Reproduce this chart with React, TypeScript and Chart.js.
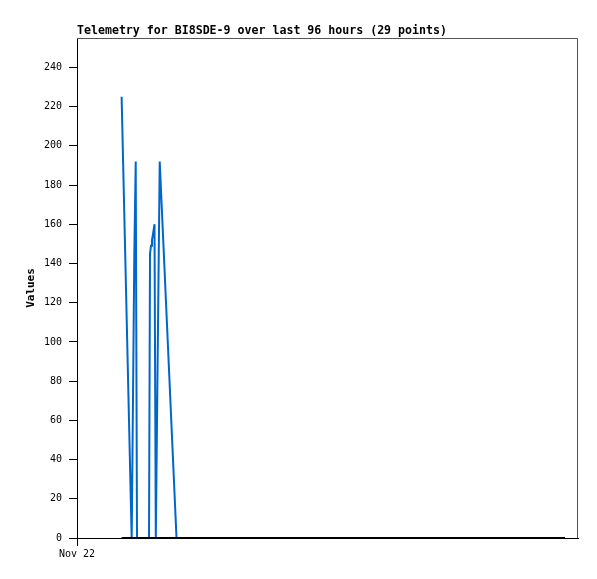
import { useEffect, useRef } from "react";
import { Chart, registerables } from "chart.js";

Chart.register(...registerables);

const TITLE = "Telemetry for BI8SDE-9 over last 96 hours (29 points)";
const Y_AXIS_LABEL = "Values";
const X_TICK_HOURS = [0];
const X_TICK_LABELS = ["Nov 22"];
const Y_TICKS = [0, 20, 40, 60, 80, 100, 120, 140, 160, 180, 200, 220, 240];
const X_MAX_HOURS = 96;
const Y_MAX = 255;

// hours since Nov 22 00:00
const HOURS = [
  8.55, 10.48, 10.98, 11.25, 11.5, 13.8, 13.99, 14.18, 14.37, 14.56, 14.85, 15.1,
  15.85, 19.07, 24, 29, 34, 39, 44, 49, 54, 59, 64, 69, 74, 79, 84, 89, 93.5,
];
const VALUES = [
  225, 0, 144, 192, 0, 0, 145, 149, 152, 155, 160, 0,
  192, 0, 0, 0, 0, 0, 0, 0, 0, 0, 0, 0, 0, 0, 0, 0, 0,
];
const BASELINE = [
  0, 0, 0, 0, 0, 0, 0, 0, 0, 0, 0, 0,
  0, 0, 0, 0, 0, 0, 0, 0, 0, 0, 0, 0, 0, 0, 0, 0, 0,
];

const MONO = '"DejaVu Sans Mono", "Liberation Mono", monospace';

const framePlugin = {
  id: "frameAndTitle",
  afterDraw(chart: any) {
    const { ctx, chartArea } = chart;
    ctx.save();
    ctx.strokeStyle = "#555555";
    ctx.lineWidth = 1;
    ctx.beginPath();
    ctx.moveTo(chartArea.left, chartArea.top + 0.5);
    ctx.lineTo(chartArea.right - 0.5, chartArea.top + 0.5);
    ctx.lineTo(chartArea.right - 0.5, chartArea.bottom);
    ctx.stroke();
    ctx.font = `bold 11.6px ${MONO}`;
    ctx.fillStyle = "#000000";
    ctx.textAlign = "left";
    ctx.textBaseline = "alphabetic";
    ctx.fillText(TITLE, chartArea.left, chartArea.top - 4);
    ctx.restore();
  },
};

export default function App() {
  const ref = useRef<HTMLCanvasElement | null>(null);

  useEffect(() => {
    if (!ref.current) return;
    const chart = new Chart(ref.current, {
      type: "line",
      data: {
        datasets: [
          {
            label: "Baseline",
            data: HOURS.map((h, i) => ({ x: h, y: BASELINE[i] })),
            borderColor: "#000000",
            borderWidth: 2,
            pointRadius: 0,
            tension: 0,
            order: 0,
          },
          {
            label: "Values",
            data: HOURS.map((h, i) => ({ x: h, y: VALUES[i] })),
            borderColor: "#0066CC",
            borderWidth: 2,
            pointRadius: 0,
            tension: 0,
            order: 1,
          },
        ],
      },
      options: {
        animation: false,
        responsive: false,
        devicePixelRatio: 1,
        layout: { padding: { left: 0, right: 19, top: 38, bottom: 0 } },
        plugins: {
          legend: { display: false },
          title: { display: false },
          tooltip: { enabled: false },
        },
        scales: {
          x: {
            type: "linear",
            min: 0,
            max: X_MAX_HOURS,
            afterBuildTicks: (scale: any) => {
              scale.ticks = X_TICK_HOURS.map((v) => ({ value: v }));
            },
            afterFit: (scale: any) => {
              scale.height = 41;
            },
            ticks: {
              autoSkip: false,
              maxRotation: 0,
              padding: 2,
              color: "#000000",
              font: { family: MONO, size: 10 },
              callback: (v: any) => {
                const i = X_TICK_HOURS.indexOf(Number(v));
                return i >= 0 ? X_TICK_LABELS[i] : "";
              },
            },
            grid: { drawOnChartArea: false, drawTicks: true, tickLength: 8, color: "#000000" },
            border: { display: true, color: "#000000", width: 1 },
          },
          y: {
            type: "linear",
            min: 0,
            max: Y_MAX,
            afterBuildTicks: (scale: any) => {
              scale.ticks = Y_TICKS.map((v) => ({ value: v }));
            },
            afterFit: (scale: any) => {
              scale.width = 77;
            },
            ticks: {
              padding: 7,
              color: "#000000",
              font: { family: MONO, size: 10 },
            },
            grid: { drawOnChartArea: false, drawTicks: true, tickLength: 8, color: "#000000" },
            border: { display: true, color: "#000000", width: 1 },
            title: {
              display: true,
              text: Y_AXIS_LABEL,
              color: "#000000",
              font: { family: MONO, size: 11, weight: "bold" },
              padding: { top: 25, bottom: 0 },
            },
          },
        },
      },
      plugins: [framePlugin],
    });
    return () => chart.destroy();
  }, []);

  return (
    <div style={{ position: "absolute", left: 0, top: 0, width: 597, height: 579, background: "#ffffff" }}>
      <canvas ref={ref} width={597} height={579} style={{ display: "block", width: 597, height: 579 }} />
    </div>
  );
}
